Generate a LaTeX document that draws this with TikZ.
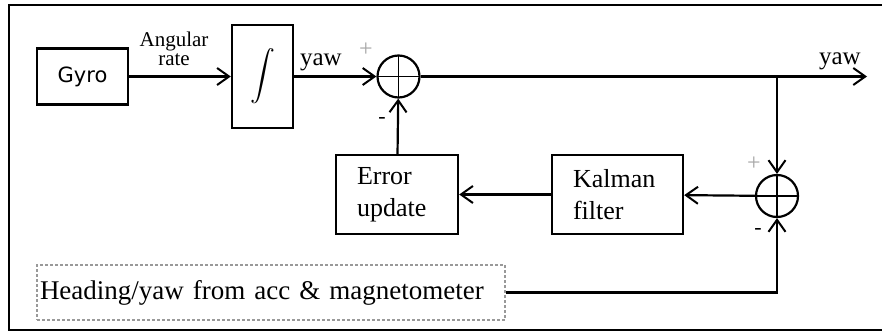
\documentclass[tikz,border=0pt]{standalone}
\usepackage{fontspec}
\usepackage{exscale}
\setmainfont{Liberation Serif}
\newfontfamily\gyrofont{DejaVu Sans}
\usetikzlibrary{arrows.meta}

\begin{document}
\begin{tikzpicture}[
    x=1pt, y=-1pt,
    line width=2.2pt,
    block/.style={
        rectangle,
        draw,
        line width=2.4pt,
        inner sep=0pt
    },
    txtblock/.style={
        block,
        align=left,
        inner xsep=21pt,
        minimum height=79pt,
        font=\fontsize{26}{32}\selectfont
    },
    sumnode/.style={
        circle, draw, minimum size=42pt, inner sep=0pt,
        path picture={
            \draw[line width=1.8pt]
                (path picture bounding box.north) -- (path picture bounding box.south)
                (path picture bounding box.west) -- (path picture bounding box.east);
        }
    },
    signal/.style={draw, -{Straight Barb[length=12pt, width=17pt, line width=2pt]}},
    tag/.style={inner sep=0pt},
    sign/.style={tag, font=\fontsize{24}{24}\selectfont, text=gray!70},
    minus/.style={tag, font=\fontsize{22}{22}\selectfont}
]
\useasboundingbox (0,0) rectangle (882,332);

% Frame (open on the right)
\draw[line width=2.4pt] (882,5) -| (9,330) -- (882,330);

% Forward path
\node[block, minimum width=91pt, minimum height=56pt,
      font=\gyrofont\fontsize{21}{24}\selectfont] (gyro) at (82.5,76.5) {Gyro};
\node[block, minimum width=61pt, minimum height=103pt] (integ) at (262.5,76.5)
    {\fontsize{29}{29}\selectfont$\displaystyle\int$};
\node[sumnode] (sum1) at (398.5,76.5) {};

% Feedback path
\node[sumnode] (sum2) at (777,196) {};
\node[txtblock, text width=89pt] (kalman) at (617.5,194.5) {Kalman\\filter};
\node[txtblock, text width=80pt] (error) at (397,194.5) {Error\\update};
\node[block, dashed, draw=gray!80, line width=1.4pt,
      dash pattern=on 3pt off 2pt,
      text width=462pt, inner xsep=3pt, minimum height=55pt, align=left,
      font=\fontsize{27}{30}\selectfont] (heading) at (271,292.5)
    {Heading/yaw from acc \& magnetometer};

\coordinate (branch) at (sum2 |- sum1);
\coordinate (out) at (867,76.5);

% Connectors
\draw[signal] (gyro) -- (integ);
\draw[signal] (integ) -- (sum1);
\draw[signal] (sum1) -- (out);
\draw[signal] (branch) -- (sum2);
\draw[signal] (sum2) -- (kalman);
\draw[signal] (kalman) -- (error);
\draw[signal] (error) -- (sum1);
\draw[signal] (heading.east) -| (sum2);

% Labels
\node[tag, align=center, font=\fontsize{21}{19}\selectfont, anchor=north] (rate) at (174,31)
    {Angular\\rate};
\node[tag, anchor=base west, font=\fontsize{25}{25}\selectfont] (yawint) at (299,65) {yaw};
\node[tag, anchor=base west, font=\fontsize{25}{25}\selectfont] (yawout) at (818,64) {yaw};
\node[sign] (plus1) at (366,50) {+};
\node[minus] (minus1) at (382,120) {-};
\node[sign] (plus2) at (754,164) {+};
\node[minus] (minus2) at (758,231) {-};

\end{tikzpicture}
\end{document}
